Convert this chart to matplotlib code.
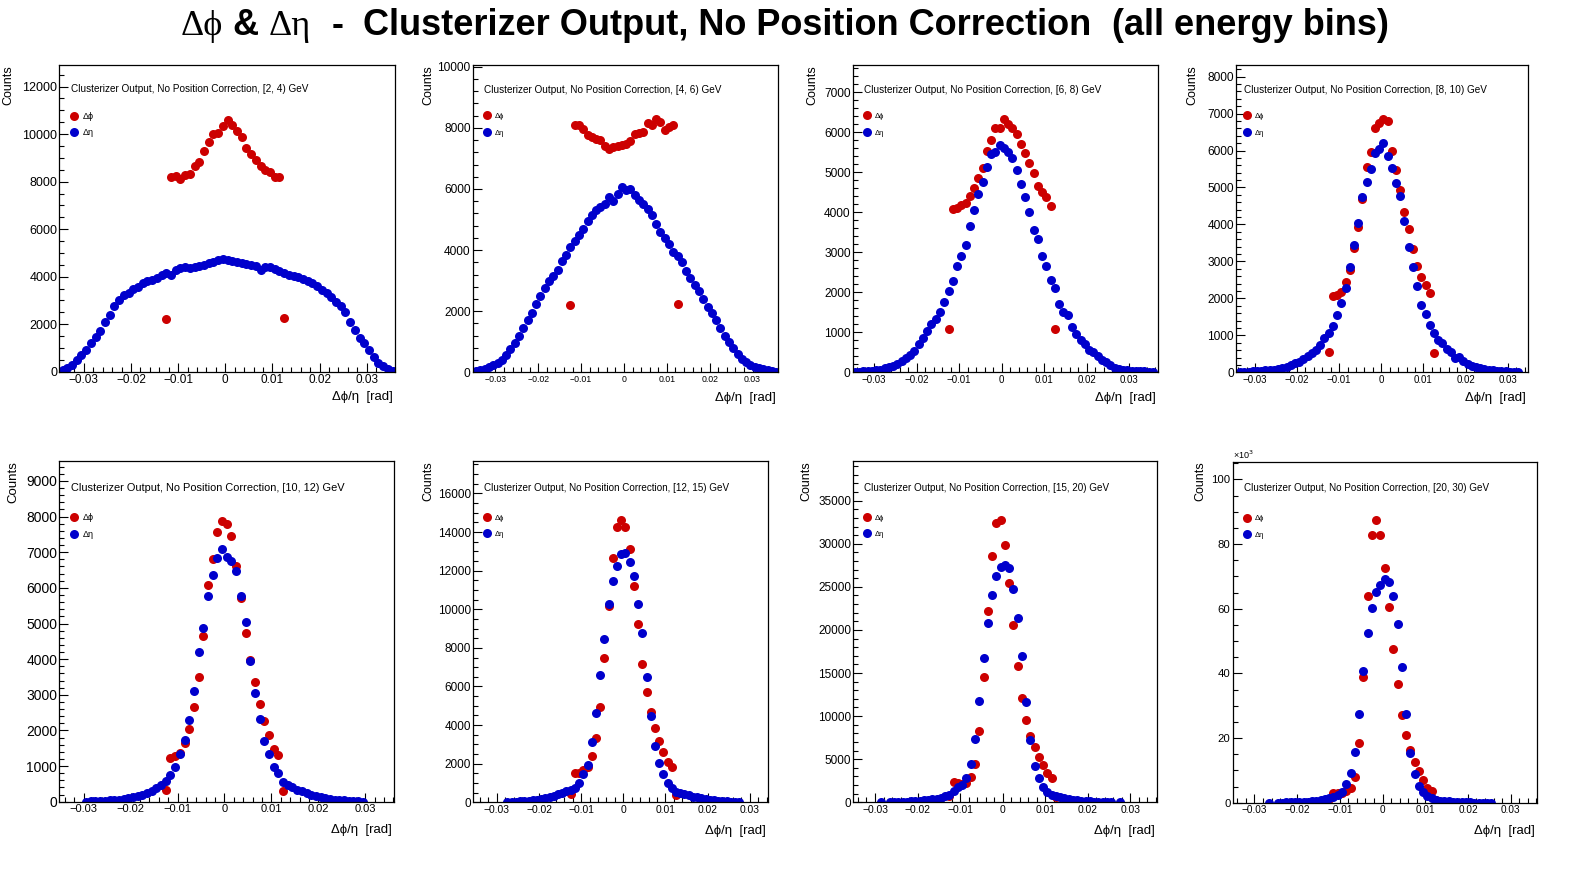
import matplotlib
matplotlib.use("Agg")
import matplotlib.pyplot as plt
from matplotlib.lines import Line2D
from matplotlib.ticker import MultipleLocator, FuncFormatter
import numpy as np

# ---------------------------------------------------------------- data
energy_bins = ["[2, 4)", "[4, 6)", "[6, 8)", "[8, 10)",
               "[10, 12)", "[12, 15)", "[15, 20)", "[20, 30)"]

bin_width = 0.001
dphi_start = -0.0125

# delta-phi counts (26 bins from -0.0125 to 0.0125)
dphi_1 = [2200, 8180, 8250, 8130, 8280, 8330, 8650, 8820, 9300, 9650, 10000, 10050, 10350,
          10600, 10400, 10150, 9900, 9400, 9150, 8900, 8650, 8500, 8400, 8200, 8200, 2250]
dphi_2 = [2200, 8090, 8080, 7950, 7760, 7700, 7650, 7600, 7400, 7300, 7360, 7420, 7440,
          7480, 7580, 7800, 7820, 7860, 8150, 8090, 8300, 8200, 7930, 8040, 8090, 2230]
dphi_3 = [1080, 4080, 4120, 4180, 4240, 4420, 4600, 4850, 5120, 5530, 5820, 6100, 6120,
          6330, 6220, 6100, 5960, 5700, 5480, 5240, 4980, 4670, 4500, 4380, 4160, 1080]
dphi_4 = [560, 2060, 2100, 2180, 2450, 2780, 3360, 3930, 4680, 5560, 5950, 6600, 6750,
          6840, 6800, 5980, 5480, 4930, 4340, 3890, 3340, 2870, 2590, 2360, 2150, 530]
dphi_5 = [330, 1220, 1290, 1360, 1640, 2030, 2650, 3490, 4660, 6080, 6800, 7560, 7880,
          7800, 7450, 6610, 5720, 4720, 3970, 3350, 2740, 2270, 1880, 1470, 1310, 310]
dphi_6 = [415, 1500, 1500, 1670, 1850, 2400, 3310, 4950, 7460, 10190, 12640, 14240, 14620,
          14240, 13100, 11220, 9220, 7190, 5700, 4690, 3830, 3180, 2590, 2110, 1850, 380]
dphi_7 = [750, 2350, 2250, 2150, 2250, 2900, 4400, 8270, 14500, 22200, 28600, 32450, 32700,
          29900, 25450, 20550, 15850, 12150, 9500, 7700, 6400, 5300, 4350, 3450, 2800, 650]
# last panel in units of 10^3 counts
dphi_8 = [1.2, 3.0, 3.1, 2.9, 3.6, 4.4, 8.0, 18.5, 39.0, 64.0, 82.7, 87.6, 82.7,
          72.5, 60.6, 47.4, 36.6, 27.1, 21.0, 16.2, 12.6, 9.7, 6.9, 4.6, 3.6, 0.8]

# delta-eta counts, first bin centre per panel
deta_start = [-0.0345, -0.0345, -0.0345, -0.0335, -0.0295, -0.0275, -0.0285, -0.0265]

deta_1 = [70, 140, 290, 490, 700, 920, 1190, 1450, 1700, 2100,
          2400, 2750, 3020, 3230, 3330, 3480, 3580, 3720, 3800, 3860,
          3950, 4050, 4170, 4050, 4280, 4350, 4420, 4380, 4420, 4450,
          4500, 4560, 4630, 4700, 4740, 4700, 4660, 4620, 4560, 4520,
          4500, 4450, 4300, 4400, 4420, 4330, 4250, 4150, 4080, 4040,
          3980, 3900, 3820, 3720, 3620, 3450, 3300, 3150, 2950, 2750,
          2500, 2100, 1750, 1400, 1200, 910, 630, 350, 230, 120, 30]
deta_2 = [30, 60, 110, 170, 230, 300, 400, 560, 750, 950,
          1200, 1450, 1700, 1950, 2250, 2500, 2750, 3000, 3150, 3350,
          3650, 3850, 4100, 4300, 4500, 4700, 4950, 5150, 5300, 5400,
          5500, 5750, 5600, 5850, 6050, 5950, 6000, 5800, 5650, 5500,
          5350, 5150, 4850, 4600, 4400, 4200, 3950, 3800, 3600, 3300,
          3100, 2850, 2650, 2400, 2150, 1950, 1700, 1450, 1200, 1000,
          800, 600, 450, 330, 250, 180, 130, 100, 70, 50, 20]
deta_3 = [20, 20, 25, 30, 40, 50, 70, 100, 130, 170,
          200, 280, 350, 430, 540, 700, 850, 1030, 1200, 1330,
          1500, 1750, 2030, 2280, 2650, 2900, 3180, 3650, 4050, 4450,
          4750, 5130, 5450, 5500, 5680, 5600, 5520, 5350, 5050, 4700,
          4380, 4000, 3550, 3330, 2900, 2650, 2300, 2100, 1700, 1500,
          1430, 1130, 960, 800, 720, 560, 500, 400, 310, 250,
          180, 120, 80, 60, 50, 40, 35, 30, 25, 20, 20]
deta_4 = [15, 15, 20, 25, 35, 40, 55, 60, 75, 90,
          120, 150, 200, 250, 290, 350, 450, 520, 600, 740,
          920, 1050, 1250, 1550, 1880, 2280, 2860, 3450, 4030, 4750,
          5160, 5490, 5920, 6030, 6200, 5850, 5540, 5130, 4760, 4100,
          3400, 2860, 2340, 1820, 1570, 1280, 1050, 880, 800, 620,
          560, 380, 420, 300, 230, 180, 140, 110, 90, 70,
          50, 40, 30, 25, 20, 15, 10]
deta_5 = [5, 10, 15, 20, 25, 35, 45, 60, 80, 100, 130, 160, 200, 250, 300, 380, 470, 580,
          750, 980, 1330, 1730, 2290, 3115, 4210, 4860, 5780, 6360, 6850, 7090, 6870,
          6750, 6470, 5770, 5030, 3960, 3040, 2310, 1700, 1330, 960, 800, 560, 470,
          400, 340, 290, 240, 200, 160, 130, 100, 80, 60, 45, 35, 25, 15, 10, 5]
deta_6 = [20, 30, 40, 50, 60, 80, 100, 130, 170, 220, 280, 350, 420, 480, 560, 640,
          730, 985, 1450, 1930, 3140, 4610, 6600, 8440, 10270, 11480, 12250, 12840,
          12890, 12460, 11740, 10270, 8750, 6470, 4490, 2930, 2020, 1450, 985, 760, 550,
          480, 420, 360, 300, 250, 200, 160, 130, 100, 80, 60, 50, 40, 30, 20]
deta_7 = [10, np.nan, 30, 40, 50, 60, 80, 100, 130, 170, 220, 280, 350, 430, 550, 700, 900,
          1300, 1820, 2000, 2800, 4450, 7400, 11750, 16700, 20750, 24100, 26200, 27350,
          27500, 27150, 24800, 21350, 17000, 11600, 7250, 4250, 2850, 1800, 1250, 900,
          700, 560, 450, 360, 290, 230, 180, 140, 110, 80, 60, 45, 35, 25, np.nan, 10]
deta_8 = [0.02, np.nan, 0.04, 0.05, 0.07, 0.09, 0.12, 0.16, 0.22, 0.3, 0.4, 0.55, 0.75, 1.0, 1.4,
          1.9, 2.4, 3.4, 5.8, 9.3, 15.8, 27.3, 40.7, 52.4, 60.1, 65.1, 67.5, 69.2, 68.4,
          64.1, 55.2, 41.9, 27.3, 15.3, 8.8, 5.3, 3.4, 2.1, 1.3,
          0.9, 0.65, 0.5, 0.38, 0.28, 0.2, 0.15, 0.11, 0.08, 0.06, 0.05, 0.04, 0.03, 0.02]

dphi_all = [dphi_1, dphi_2, dphi_3, dphi_4, dphi_5, dphi_6, dphi_7, dphi_8]
deta_all = [deta_1, deta_2, deta_3, deta_4, deta_5, deta_6, deta_7, deta_8]

# ---------------------------------------------------------------- layout (pixels)
W, H = 1596, 872
RED, BLUE = "#cc0000", "#0000cc"
SANS = ["Liberation Sans", "DejaVu Sans"]
SERIF = ["Liberation Serif", "DejaVu Serif"]
MS = 6.5

# frame: left, right, top, bottom
frames = [(59.3, 395, 65, 371.7), (472.7, 778.3, 65.5, 372.3),
          (852.7, 1158, 65, 372.3), (1236, 1528.3, 65, 372.3),
          (59.3, 394.3, 461, 801.7), (473.3, 768.3, 461, 802.3),
          (853.3, 1156.7, 461, 802.3), (1232.7, 1536.7, 461.7, 802.7)]
xlims = [(-0.0352, 0.0360), (-0.0353, 0.0360), (-0.0350, 0.0367), (-0.0345, 0.0349),
         (-0.0352, 0.0362), (-0.0356, 0.0344), (-0.0351, 0.0362), (-0.0351, 0.0361)]
ymaxs = [12910, 10040, 7683, 8314, 9560, 17680, 39600, 105.5]
ymajor = [2000, 2000, 1000, 1000, 1000, 2000, 5000, 20]
yminor_div = [4, 5, 5, 5, 5, 4, 5, 4]
xtick_fs = [8.5, 6.3, 7, 7, 8, 7.4, 7.4, 7.2]
ytick_fs = [9, 8.6, 8.6, 8.6, 10, 8.5, 8.5, 8.2]
info_fs = [7.2, 7.2, 7.2, 7.2, 7.9, 7.15, 7.15, 7.15]
info_x = [71, 484, 864, 1244, 71, 484, 864, 1244]
info_y = [89.3, 89.7, 89.7, 89.7, 488.3, 487.7, 487.7, 487.7]
leg_x = [74, 487.3, 867.3, 1247.3, 74, 487.3, 867.3, 1247.3]
leg_y = [116.7, 116.7, 116.7, 116.7, 518.3, 518.3, 518.3, 519]
leg_fs = [6.5, 5.5, 5.5, 5.5, 6.5, 5.5, 5.5, 5.5]
counts_x = [8.3, 428.3, 812.3, 1192.3, 13.3, 428.3, 806.7, 1200]
counts_fs = [9, 9, 9, 9, 9.5, 9, 9, 9]

fig = plt.figure(figsize=(W / 100, H / 100), dpi=100)


def fx(px):
    return px / W


def fy(py):
    return 1 - py / H


def xfmt(v, _):
    if abs(v) < 1e-9:
        return "0"
    return f"{v:g}".replace("-", "\u2212")


for k in range(8):
    l, r, t, b = frames[k]
    ax = fig.add_axes([fx(l), fy(b), (r - l) / W, (b - t) / H])

    xr = dphi_start + bin_width * np.arange(len(dphi_all[k]))
    xb = deta_start[k] + bin_width * np.arange(len(deta_all[k]))
    ax.plot(xr, dphi_all[k], ls="none", marker="o", ms=MS, mew=0, color=RED)
    ax.plot(xb, deta_all[k], ls="none", marker="o", ms=MS, mew=0, color=BLUE)

    ax.set_xlim(*xlims[k])
    ax.set_ylim(0, ymaxs[k])
    ax.xaxis.set_major_locator(MultipleLocator(0.01))
    ax.xaxis.set_minor_locator(MultipleLocator(0.002))
    ax.xaxis.set_major_formatter(FuncFormatter(xfmt))
    ax.yaxis.set_major_locator(MultipleLocator(ymajor[k]))
    ax.yaxis.set_minor_locator(MultipleLocator(ymajor[k] / yminor_div[k]))
    ax.yaxis.set_major_formatter(FuncFormatter(lambda v, _: f"{v:.0f}"))
    ax.tick_params(which="both", direction="in", top=False, right=False, width=0.8)
    ax.tick_params(which="major", length=6.5)
    ax.tick_params(which="minor", length=3.3)
    ax.tick_params(axis="x", labelsize=xtick_fs[k], pad=2)
    ax.tick_params(axis="y", labelsize=ytick_fs[k], pad=1.5)
    for lab in ax.get_xticklabels() + ax.get_yticklabels():
        lab.set_family(SANS)
    for s in ax.spines.values():
        s.set_linewidth(0.9)

    # pad caption
    fig.text(fx(info_x[k]), fy(info_y[k]),
             f"Clusterizer Output, No Position Correction, {energy_bins[k]} GeV",
             family=SANS, size=info_fs[k], ha="left", va="center")

    # legend
    fs = leg_fs[k]
    hl = 1.0
    fs_px = fs * 100 / 72
    handles = [Line2D([], [], ls="none", marker="o", ms=MS, mew=0, color=RED, label="\u0394\u03d5"),
               Line2D([], [], ls="none", marker="o", ms=MS, mew=0, color=BLUE, label="\u0394\u03b7")]
    ax.legend(handles=handles, loc="upper left",
              bbox_to_anchor=(fx(leg_x[k] - hl * fs_px / 2), fy(leg_y[k] - 0.6 * fs_px + 0.6)),
              bbox_transform=fig.transFigure, frameon=False, borderpad=0, borderaxespad=0,
              handlelength=hl, handletextpad=0.45, labelspacing=(18.3 / fs_px) - 1.2,
              prop={"family": SANS, "size": fs})

    # axis titles
    fig.text(fx(counts_x[k]), fy(t), "Counts", rotation=90, ha="center", va="top",
             family=SANS, size=counts_fs[k])
    xlab_y = b + 25.5 if k < 4 else b + 28.5
    fig.text(fx(r - 2), fy(xlab_y), "\u0394\u03d5/\u03b7  [rad]", ha="right", va="center",
             family=SANS, size=9.5)

# x10^3 marker for the last pad
fig.text(fx(1232.7), fy(455), "\u00d710$^{3}$", ha="left", va="center", family=SANS, size=6.5)

# ---------------------------------------------------------------- title
renderer = fig.canvas.get_renderer()
TS = 26
space = 0.278 * TS * 100 / 72
pieces = [("\u0394\u03d5", SERIF, "normal", 1), ("&", SANS, "bold", 1),
          ("\u0394\u03b7", SERIF, "normal", 2), ("-", SANS, "bold", 2),
          ("Clusterizer Output, No Position Correction", SANS, "bold", 2),
          ("(all energy bins)", SANS, "bold", 0)]
texts, widths = [], []
for s, fam, wt, gap in pieces:
    tx = fig.text(0, fy(35), s, family=fam, weight=wt, size=TS, ha="left", va="baseline")
    texts.append(tx)
    widths.append(tx.get_window_extent(renderer).width)
total = sum(widths) + sum(p[3] for p in pieces) * space
x0 = 784.5 - total / 2
for tx, w, p in zip(texts, widths, pieces):
    tx.set_x(fx(x0))
    x0 += w + p[3] * space

fig.savefig("out.png", dpi=100)
